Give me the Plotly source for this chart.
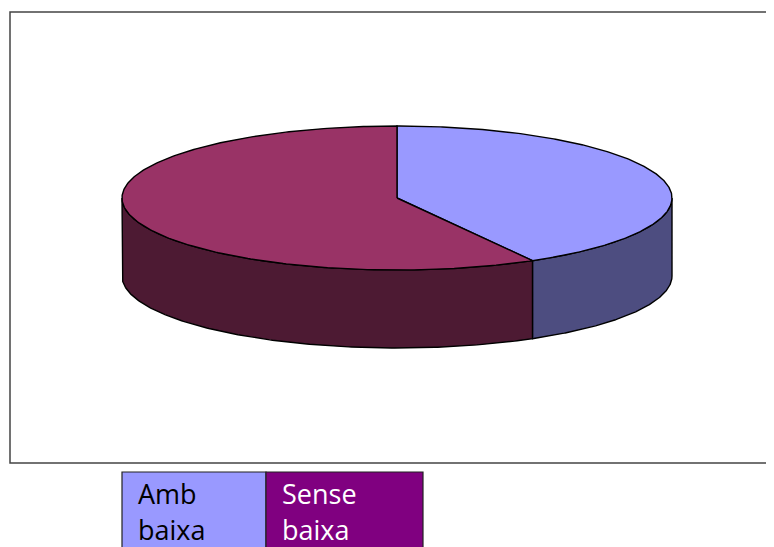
import numpy as np
import plotly.graph_objects as go

# Data
categories = ["Amb baixa", "Sense baixa"]
values = [41.8, 58.2]
top_colors = ["#9999FF", "#993366"]
side_colors = ["#4D4D80", "#4D1A33"]
legend_colors = ["#9999FF", "#800080"]
legend_text_colors = ["#000000", "#FFFFFF"]
legend_lines = [["Amb", "baixa"], ["Sense", "baixa"]]

W, H = 774, 547
OFF = 8  # page body margin
cx, cy, rx, ry, depth = 397, 198, 275, 72, 78

def pt(theta_deg):
    t = np.radians(theta_deg)
    return cx + rx * np.sin(t), cy - ry * np.cos(t)

fig = go.Figure()

total = sum(values)
angles = np.concatenate([[0], np.cumsum(values) / total * 360])

# sides (visible front half: 90..270)
for i in range(len(values)):
    a0, a1 = angles[i], angles[i + 1]
    s0, s1 = max(a0, 90), min(a1, 270)
    if s1 <= s0:
        continue
    th = np.linspace(s0, s1, 200)
    xs, ys = pt(th)
    X = np.concatenate([xs, xs[::-1], [xs[0]]])
    Y = np.concatenate([ys, ys[::-1] + depth, [ys[0]]])
    fig.add_trace(go.Scatter(x=X, y=Y, mode="lines", fill="toself",
                             fillcolor=side_colors[i],
                             line=dict(color="black", width=1.4),
                             hoverinfo="skip", showlegend=False))

# tops
for i in range(len(values)):
    a0, a1 = angles[i], angles[i + 1]
    th = np.linspace(a0, a1, 300)
    xs, ys = pt(th)
    X = np.concatenate([[cx], xs, [cx]])
    Y = np.concatenate([[cy], ys, [cy]])
    fig.add_trace(go.Scatter(x=X, y=Y, mode="lines", fill="toself",
                             fillcolor=top_colors[i],
                             line=dict(color="black", width=1.4),
                             hoverinfo="skip", showlegend=False, name=categories[i]))

# frame
fig.add_shape(type="rect", x0=10, y0=12, x1=800, y1=463,
              line=dict(color="#444444", width=1.5), fillcolor="rgba(0,0,0,0)")

# legend table
cells = [(122, 266), (266, 423)]
for i, (x0, x1) in enumerate(cells):
    fig.add_shape(type="rect", x0=x0, y0=472, x1=x1, y1=570,
                  line=dict(color="#222222", width=1.2), fillcolor=legend_colors[i])
    for j, txt in enumerate(legend_lines[i]):
        fig.add_annotation(x=x0 + 14, y=493 + j * 36, text=txt, showarrow=False,
                           xanchor="left", yanchor="middle",
                           font=dict(family="Open Sans", size=27,
                                     color=legend_text_colors[i]))

fig.update_layout(width=W, height=H, margin=dict(l=0, r=0, t=0, b=0),
                  paper_bgcolor="white", plot_bgcolor="white",
                  xaxis=dict(range=[OFF, W + OFF], visible=False, fixedrange=True),
                  yaxis=dict(range=[H + OFF, OFF], visible=False, fixedrange=True),
                  showlegend=False)

fig.write_html("out.html")
